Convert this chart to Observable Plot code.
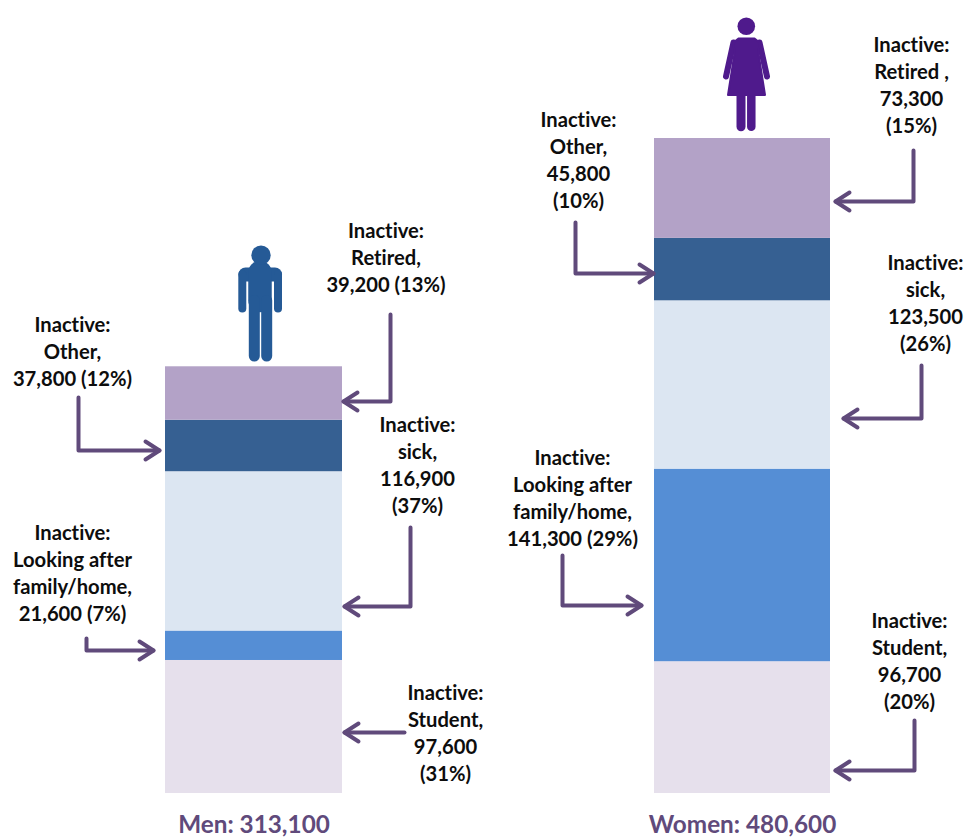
<!DOCTYPE html>
<html>
<head>
<meta charset="utf-8">
<script src="https://cdn.jsdelivr.net/npm/d3@7"></script>
<script src="https://cdn.jsdelivr.net/npm/@observablehq/plot@0.6"></script>
<style>
html,body{margin:0;padding:0;background:#fff}
svg{display:block}
</style>
</head>
<body>
<div id="chart"></div>
<script>
// ---- values ----
const groups = ["Men", "Women"];
const totals = [313100, 480600];
const categories = ["Student", "Looking after family/home", "Sick", "Other", "Retired"];
const menValues = [97600, 21600, 116900, 37800, 39200];
const womenValues = [96700, 141300, 123500, 45800, 73300];
const categoryColors = ["#E6E0EC", "#558ED5", "#DCE6F2", "#366092", "#B3A2C7"];

const menLabels = [
  "Inactive:\nStudent,\n97,600\n(31%)",
  "Inactive:\nLooking after\nfamily/home,\n21,600 (7%)",
  "Inactive:\nsick,\n116,900\n(37%)",
  "Inactive:\nOther,\n37,800 (12%)",
  "Inactive:\nRetired,\n39,200 (13%)"
];
const womenLabels = [
  "Inactive:\nStudent,\n96,700\n(20%)",
  "Inactive:\nLooking after\nfamily/home,\n141,300 (29%)",
  "Inactive:\nsick,\n123,500\n(26%)",
  "Inactive:\nOther,\n45,800\n(10%)",
  "Inactive:\nRetired ,\n73,300\n(15%)"
];

// ---- layout (pixels on the 965x837 canvas) ----
const W = 965, H = 837, baseY = 793;
const perPx = 480600 / 655;                 // people per pixel of bar height
const Y = px => (baseY - px) * perPx;       // canvas y -> value on the y scale
const barSpans = [[165, 342], [654, 830]];
const menLabelPos = [[445, 731], [72, 571], [417, 463], [72, 349.5], [385.5, 255.5]];
const womenLabelPos = [[909, 659], [572, 496], [925, 301], [578, 158], [911, 83.5]];
const menArrows = [
  [[404, 732], [344, 732]],
  [[86, 638], [86, 650], [153, 650]],
  [[410, 527], [410, 606], [344, 606]],
  [[78, 397], [78, 450], [159, 450]],
  [[390, 314], [390, 401], [343, 401]]
];
const womenArrows = [
  [[914, 720], [914, 770], [835, 770]],
  [[562, 555], [562, 605], [641, 605]],
  [[921, 365], [921, 418], [843, 418]],
  [[575, 222], [575, 273], [653, 273]],
  [[913, 150], [913, 201], [835, 201]]
];
const figureColors = ["#255A96", "#4F1A8C"];
const manLimbs = [
  {w: 14, p: [[245, 274], [274.5, 274]]},
  {w: 8, p: [[241.8, 274], [241.8, 308]]},
  {w: 8, p: [[277.5, 274], [277.5, 308]]},
  {w: 23.5, p: [[259.5, 272], [259.5, 300]]},
  {w: 11, p: [[253.8, 300], [253.8, 355.5]]},
  {w: 11, p: [[266.2, 300], [266.2, 355.5]]}
];
const womanLimbs = [
  {w: 6, p: [[733, 42], [725.5, 76]]},
  {w: 6, p: [[759, 42], [766.5, 76]]},
  {w: 9, p: [[740.5, 92], [740.5, 126.3]]},
  {w: 8.5, p: [[750.8, 92], [750.8, 126.3]]}
];
const womanDress = [[738, 38], [754, 38], [759, 42], [758, 53], [764.5, 94.5], [727.5, 94.5], [734, 53], [733, 42]];
const manHead = [260.5, 254.7];
const womanHead = [745.8, 25.7];

const textColor = "#0D0D0D", accent = "#604A7B";
const font = "Lato, Carlito, sans-serif";

// ---- derived tables ----
const seriesValues = [menValues, womenValues];
const barRows = groups.flatMap((group, g) => {
  const tops = d3.cumsum(seriesValues[g]);
  return categories.map((category, i) => ({
    group, category, x1: barSpans[g][0], x2: barSpans[g][1],
    y1: tops[i] - seriesValues[g][i], y2: tops[i], fill: categoryColors[i]
  }));
});
const labelRows = [
  ...menLabels.map((text, i) => ({text, x: menLabelPos[i][0], y: Y(menLabelPos[i][1])})),
  ...womenLabels.map((text, i) => ({text, x: womenLabelPos[i][0], y: Y(womenLabelPos[i][1])}))
];
const totalRows = groups.map((g, i) => ({
  text: `${g}: ${d3.format(",")(totals[i])}`,
  x: (barSpans[i][0] + barSpans[i][1]) / 2,
  y: Y(825)
}));
const toLine = pts => pts.map(([x, y]) => ({x, y: Y(y)}));
function arrowHead(a) {
  const [x0, y0] = a[a.length - 2], [x1, y1] = a[a.length - 1];
  const sx = Math.sign(x1 - x0), sy = Math.sign(y1 - y0);
  return [[x1 - sx * 14 - sy * 9, y1 - sy * 14 - sx * 9], [x1, y1], [x1 - sx * 14 + sy * 9, y1 - sy * 14 + sx * 9]];
}
const arrows = [...menArrows, ...womenArrows];
const limbLine = (limb, color) => Plot.line(toLine(limb.p), {
  x: "x", y: "y", stroke: color, strokeWidth: limb.w, strokeLinecap: "round"
});

const chart = Plot.plot({
  width: W, height: H,
  margin: 0,
  style: {background: "#fff", fontFamily: font, fontVariantLigatures: "none"},
  x: {domain: [0, W], range: [0, W], axis: null},
  y: {domain: [0, baseY * perPx], range: [baseY, 0], axis: null},
  marks: [
    Plot.rect(barRows, {x1: "x1", x2: "x2", y1: "y1", y2: "y2", fill: d => d.fill}),
    ...arrows.flatMap(a => [a, arrowHead(a)]).map(pts => Plot.line(toLine(pts), {
      x: "x", y: "y", stroke: accent, strokeWidth: 4, strokeLinejoin: "round", strokeLinecap: "round"
    })),
    ...manLimbs.map(l => limbLine(l, figureColors[0])),
    Plot.dot([manHead], {x: d => d[0], y: d => Y(d[1]), r: 9.7, fill: figureColors[0], stroke: "none"}),
    ...womanLimbs.map(l => limbLine(l, figureColors[1])),
    Plot.line(toLine([...womanDress, womanDress[0]]), {x: "x", y: "y", fill: figureColors[1], stroke: figureColors[1], strokeWidth: 2, strokeLinejoin: "round"}),
    Plot.dot([womanHead], {x: d => d[0], y: d => Y(d[1]), r: 8.8, fill: figureColors[1], stroke: "none"}),
    Plot.text(labelRows, {x: "x", y: "y", text: "text", fill: textColor, fontSize: 20.2, fontWeight: 700, lineHeight: 1.34, lineAnchor: "middle", textAnchor: "middle"}),
    Plot.text(totalRows, {x: "x", y: "y", text: "text", fill: accent, fontSize: 24.3, fontWeight: 700, lineAnchor: "middle", textAnchor: "middle"})
  ]
});
document.getElementById("chart").append(chart);
</script>
</body>
</html>
